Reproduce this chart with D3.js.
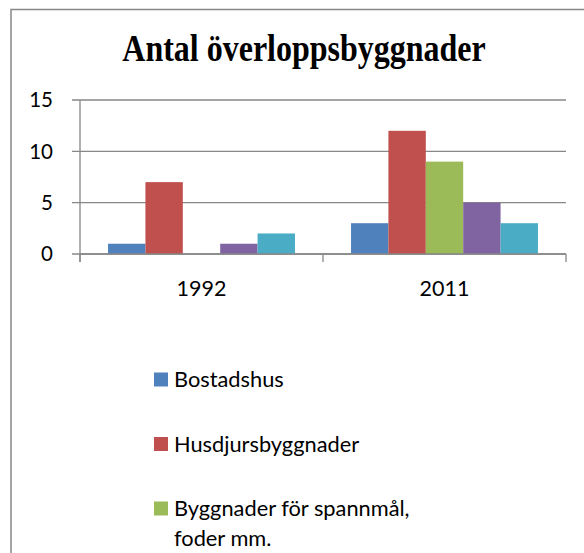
<!DOCTYPE html>
<html><head><meta charset="utf-8">
<script src="https://cdn.jsdelivr.net/npm/d3@7"></script>
<style>body{margin:0;background:#fff}svg{display:block}</style>
</head><body>
<script>
const categories = ["1992", "2011"];
const seriesNames = ["Bostadshus", "Husdjursbyggnader", "Byggnader för spannmål,\nfoder mm."];
const seriesColors = ["#4F81BD", "#C0504D", "#9BBB59", "#8064A2", "#4BACC6"];
const values1992 = [1, 7, 0, 1, 2];
const values2011 = [3, 12, 9, 5, 3];
const yTicks = [0, 5, 10, 15];
const title = "Antal överloppsbyggnader";

(function () {
const allValues = [values1992, values2011];
const W = 584, H = 553;
const FONT = "Lato, Open Sans, sans-serif";
const svg = d3.select("body").append("svg").attr("width", W).attr("height", H);
svg.append("rect").attr("width", W).attr("height", H).attr("fill", "#fff");

svg.append("rect").attr("x", 11).attr("y", 9.5).attr("width", 600).attr("height", 600)
  .attr("fill", "none").attr("stroke", "#878787").attr("stroke-width", 1.5);

svg.append("g").attr("transform", "translate(304,61) scale(1,1.2)")
  .append("text").attr("x", 0).attr("y", 0).attr("text-anchor", "middle")
  .attr("font-family", "Liberation Serif, Times New Roman, serif").attr("font-weight", "bold")
  .attr("font-size", 32).attr("fill", "#000").text(title);

const pL = 80, pR = 566, pT = 100, pB = 254;
const x0 = d3.scaleBand().domain(categories).range([pL, pR]).paddingInner(0).paddingOuter(0);
const x1 = d3.scaleBand().domain(d3.range(5)).range([0, x0.bandwidth()]).paddingOuter(0.75).paddingInner(0);
const y = d3.scaleLinear().domain([0, 15]).range([pB, pT]);

const gridColor = "#878787";
svg.append("g").selectAll("line").data(yTicks).join("line")
  .attr("x1", pL - 8).attr("x2", pR).attr("y1", d => y(d)).attr("y2", d => y(d))
  .attr("stroke", gridColor).attr("stroke-width", 1.3);

svg.append("g").selectAll("text").data(yTicks).join("text")
  .attr("x", 53).attr("y", d => y(d)).attr("dy", "0.36em").attr("text-anchor", "end")
  .attr("font-family", FONT).attr("font-size", 20.5).attr("fill", "#000")
  .text(d => d);

categories.forEach((c, ci) => {
  svg.append("g").selectAll("rect").data(allValues[ci]).join("rect")
    .attr("x", (d, i) => x0(c) + x1(i)).attr("width", x1.bandwidth())
    .attr("y", d => y(d)).attr("height", d => y(0) - y(d))
    .attr("fill", (d, i) => seriesColors[i]);
});

svg.append("line").attr("x1", pL).attr("x2", pL).attr("y1", pT).attr("y2", pB + 8)
  .attr("stroke", gridColor).attr("stroke-width", 1.3);
svg.append("line").attr("x1", pL).attr("x2", pR).attr("y1", pB).attr("y2", pB)
  .attr("stroke", gridColor).attr("stroke-width", 1.3);
const bounds = [pL, x0(categories[1]), pR];
svg.append("g").selectAll("line").data(bounds).join("line")
  .attr("x1", d => d).attr("x2", d => d).attr("y1", pB).attr("y2", pB + 8)
  .attr("stroke", gridColor).attr("stroke-width", 1.3);

svg.append("g").selectAll("text").data(categories).join("text")
  .attr("x", d => x0(d) + x0.bandwidth() / 2).attr("y", 288).attr("dy", "0.36em")
  .attr("text-anchor", "middle").attr("font-family", FONT)
  .attr("font-size", 21.5).attr("fill", "#000").text(d => d);

const leg = svg.append("g");
seriesNames.forEach((name, i) => {
  const cy = 379.5 + i * 64.5;
  leg.append("rect").attr("x", 154).attr("y", cy - 7).attr("width", 14).attr("height", 14)
    .attr("fill", seriesColors[i]);
  const t = leg.append("text").attr("x", 174).attr("y", cy)
    .attr("font-family", FONT).attr("font-size", 21.8).attr("fill", "#000");
  name.split("\n").forEach((line, li) => {
    t.append("tspan").attr("x", 174).attr("dy", li === 0 ? "0.36em" : 30).text(line);
  });
});
})();
</script>
</body></html>
